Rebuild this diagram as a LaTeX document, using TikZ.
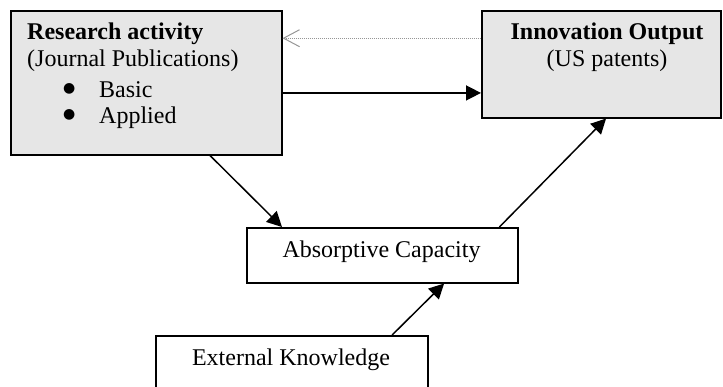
\documentclass[tikz,border=0pt]{standalone}
\usepackage{fontspec}
\setmainfont{Liberation Serif}
\newfontfamily\symfont{DejaVu Sans}
\usepackage{tikz}
\usetikzlibrary{arrows.meta,calc}
\definecolor{boxgrey}{RGB}{230,230,230}
\definecolor{dotgrey}{RGB}{150,150,150}
\newcommand{\bigbullet}{\makebox[36pt][l]{\raisebox{5pt}{\symfont\fontsize{14}{16}\selectfont ●}}}

\begin{document}
\begin{tikzpicture}[x=1pt,y=-1pt,>={Triangle[length=15pt,width=15pt]},
box/.style={draw,line width=1.5pt,inner sep=0pt,anchor=north west},
greybox/.style={box,fill=boxgrey},
txt/.style={inner sep=0pt,font=\fontsize{24}{28}\selectfont},
link/.style={->,line width=1.5pt},
feedback/.style={-{Straight Barb[length=16pt,width=17pt]},dotgrey,line width=1pt,dash pattern=on 1pt off 1pt}]
\useasboundingbox (0,0) rectangle (723,386);
\node[greybox,minimum width=271pt,minimum height=144pt](res)at(10,10){};
\node[greybox,minimum width=239pt,minimum height=107pt](out)at(481,10){};
\node[box,minimum width=271pt,minimum height=55pt](abs)at(246,227){};
\node[box,minimum width=272pt,minimum height=70pt](ext)at(155,335){};
\node[txt,anchor=base west](res1)at(27,39){\textbf{Research activity}};
\node[txt,anchor=base west](res2)at(27,66){(Journal Publications)};
\node[txt,anchor=base west](res3)at(63,97){\bigbullet Basic};
\node[txt,anchor=base west](res4)at(63,123){\bigbullet Applied};
\node[txt,anchor=base](out1)at(607,39){\textbf{Innovation Output}};
\node[txt,anchor=base](out2)at(607,66){(US patents)};
\node[txt,anchor=base](abs1)at(381.5,257){Absorptive Capacity};
\node[txt,anchor=base](ext1)at(291,365){External Knowledge};
\coordinate(fb)at($(out.north west)!0.26!(out.south west)$);
\coordinate(ro)at($(res.north east)!0.57!(res.south east)$);
\draw[feedback](fb)--(fb-|res.east);
\draw[link](ro)--(ro-|out.west);
\draw[link]($(res.south west)!0.734!(res.south east)$)--($(abs.north west)!0.132!(abs.north east)$);
\draw[link]($(abs.north west)!0.93!(abs.north east)$)--($(out.south west)!0.52!(out.south east)$);
\draw[link]($(ext.north west)!0.867!(ext.north east)$)--($(abs.south west)!0.727!(abs.south east)$);
\end{tikzpicture}
\end{document}
